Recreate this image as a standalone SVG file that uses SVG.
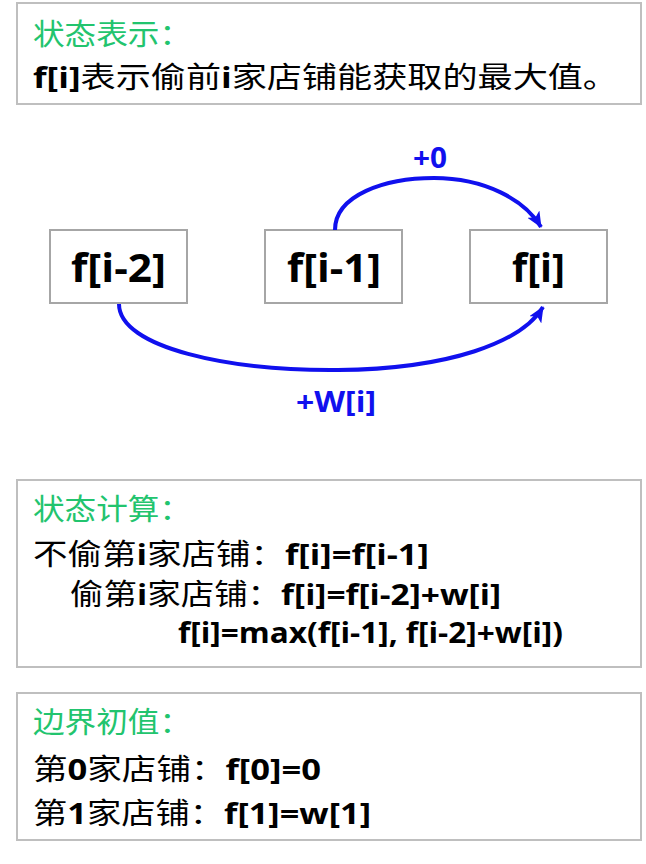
<svg xmlns="http://www.w3.org/2000/svg" width="646" height="864" viewBox="0 0 646 864">
<style>
.panel{fill:#fff;stroke:#bfbfbf;stroke-width:2}
.node{fill:#fff;stroke:#a6a6a6;stroke-width:2}
.cjk{font-family:"Noto Sans CJK SC","Noto Sans",sans-serif;font-size:29px;fill:#000}
.title{fill:#22c46e}
.b{font-family:"Open Sans","Noto Sans CJK SC",sans-serif;font-weight:bold}
.nt{font-family:"Open Sans",sans-serif;font-weight:bold;font-size:40px;fill:#000;text-anchor:middle}
.lbl{font-family:"Open Sans",sans-serif;font-weight:bold;font-size:29px;fill:#1010ee;text-anchor:middle}
.edge{fill:none;stroke:#1010ee;stroke-width:4}
</style>
<defs>
<marker id="ah" viewBox="0 0 16 14" refX="15" refY="7" markerWidth="16" markerHeight="14" markerUnits="userSpaceOnUse" orient="auto">
<path d="M0,0 L16,7 L0,14 L4,7 Z" fill="#1010ee"/>
</marker>
</defs>
<rect width="646" height="864" fill="#fff"/>
<g id="state-def">
<rect class="panel" x="17" y="3" width="624" height="101"/>
<text class="cjk title" x="33" y="45" textLength="158" lengthAdjust="spacingAndGlyphs">状态表示：</text>
<text class="cjk" x="33" y="88" textLength="585" lengthAdjust="spacingAndGlyphs"><tspan class="b">f[i]</tspan>表示偷前<tspan class="b">i</tspan>家店铺能获取的最大值。</text>
</g>
<g id="node-fi2">
<rect class="node" x="50" y="230" width="137" height="73"/>
<text class="nt" x="118.5" y="282" textLength="95" lengthAdjust="spacingAndGlyphs">f[i-2]</text>
</g>
<g id="node-fi1">
<rect class="node" x="265" y="230" width="137" height="73"/>
<text class="nt" x="334" y="282" textLength="94" lengthAdjust="spacingAndGlyphs">f[i-1]</text>
</g>
<g id="node-fi">
<rect class="node" x="470" y="230" width="137" height="73"/>
<text class="nt" x="538.5" y="282" textLength="53" lengthAdjust="spacingAndGlyphs">f[i]</text>
</g>
<g id="connectors">
<path class="edge" d="M335,230 C335,195 385,178 434,178 C485,178 525,200 541,227" marker-end="url(#ah)"/>
<path class="edge" d="M119,304 C119,348 230,371 338,370 C450,369 522,342 543,307" marker-end="url(#ah)"/>
<text class="lbl" x="430" y="168" textLength="34" lengthAdjust="spacingAndGlyphs">+0</text>
<text class="lbl" x="336" y="412" textLength="80" lengthAdjust="spacingAndGlyphs">+W[i]</text>
</g>
<g id="state-calc">
<rect class="panel" x="17" y="480" width="624" height="187"/>
<text class="cjk title" x="33" y="520" textLength="158" lengthAdjust="spacingAndGlyphs">状态计算：</text>
<text class="cjk" x="33" y="565" textLength="396" lengthAdjust="spacingAndGlyphs">不偷第<tspan class="b">i</tspan>家店铺：<tspan class="b">f[i]=f[i-1]</tspan></text>
<text class="cjk" x="70" y="605" textLength="431" lengthAdjust="spacingAndGlyphs">偷第<tspan class="b">i</tspan>家店铺：<tspan class="b">f[i]=f[i-2]+w[i]</tspan></text>
<text class="cjk b" x="178" y="643" textLength="385" lengthAdjust="spacingAndGlyphs">f[i]=max(f[i-1], f[i-2]+w[i])</text>
</g>
<g id="boundary">
<rect class="panel" x="17" y="693" width="624" height="147"/>
<text class="cjk title" x="33" y="733" textLength="158" lengthAdjust="spacingAndGlyphs">边界初值：</text>
<text class="cjk" x="33" y="780" textLength="288" lengthAdjust="spacingAndGlyphs">第<tspan class="b">0</tspan>家店铺：<tspan class="b">f[0]=0</tspan></text>
<text class="cjk" x="33" y="824" textLength="338" lengthAdjust="spacingAndGlyphs">第<tspan class="b">1</tspan>家店铺：<tspan class="b">f[1]=w[1]</tspan></text>
</g>
</svg>
